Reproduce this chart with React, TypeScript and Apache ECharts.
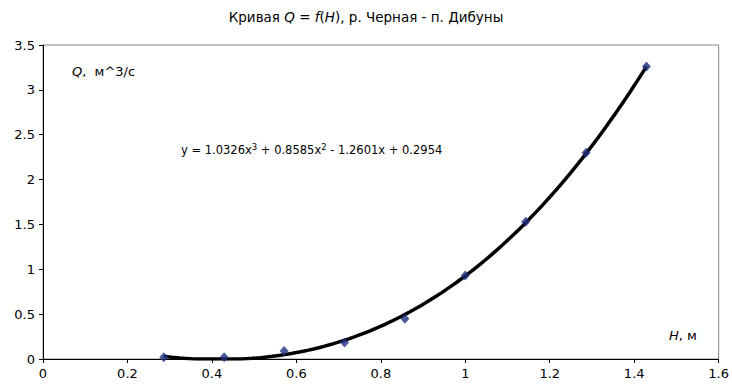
import React, { useEffect, useRef } from "react";
import * as echarts from "echarts";

const H_VALUES = [0.286, 0.429, 0.571, 0.714, 0.857, 1.0, 1.143, 1.286, 1.429];
const Q_VALUES = [0.02, 0.02, 0.09, 0.185, 0.45, 0.93, 1.53, 2.3, 3.26];
// polynomial trendline coefficients (x^3, x^2, x, const) as shown on the chart
const TREND_COEF = [1.0326, 0.8585, -1.2601, 0.2954];
const X_TICKS = [0, 0.2, 0.4, 0.6, 0.8, 1, 1.2, 1.4, 1.6];
const Y_TICKS = [0, 0.5, 1, 1.5, 2, 2.5, 3, 3.5];

const FONT = "DejaVu Sans, Liberation Sans, Arial, sans-serif";

function trend(x: number) {
  const [a, b, c, d] = TREND_COEF;
  return a * x * x * x + b * x * x + c * x + d;
}

export default function App() {
  const ref = useRef<HTMLDivElement>(null);
  useEffect(() => {
    document.body.style.margin = "0";
    if (!ref.current) return;
    const chart = echarts.init(ref.current, undefined, { renderer: "svg" });
    const x0 = H_VALUES[0];
    const x1 = H_VALUES[H_VALUES.length - 1];
    const trendData: number[][] = [];
    const n = 120;
    for (let i = 0; i <= n; i++) {
      const x = x0 + ((x1 - x0) * i) / n;
      trendData.push([x, Math.max(0, trend(x))]);
    }
    chart.setOption({
      animation: false,
      backgroundColor: "#fff",
      title: {
        text: "Кривая {i|Q} = {i|f}({i|H}), р. Черная - п. Дибуны",
        left: "center",
        top: 5,
        textStyle: {
          fontFamily: FONT,
          fontSize: 13.5,
          fontWeight: "normal",
          color: "#000",
          rich: {
            i: { fontStyle: "italic", fontFamily: FONT, fontSize: 13.5, color: "#000" },
          },
        },
      },
      grid: {
        left: 43,
        right: 13,
        top: 45,
        bottom: 31,
        show: true,
        borderColor: "#888",
        borderWidth: 1,
        backgroundColor: "#fff",
      },
      xAxis: {
        type: "value",
        min: X_TICKS[0],
        max: X_TICKS[X_TICKS.length - 1],
        interval: 0.2,
        splitLine: { show: false },
        axisLine: { show: true, onZero: false, lineStyle: { color: "#000", width: 1 } },
        axisTick: { show: true, inside: false, length: 4, lineStyle: { color: "#000" } },
        axisLabel: {
          fontFamily: FONT,
          fontSize: 13,
          color: "#000",
          margin: 8,
          formatter: (v: number) => String(Math.round(v * 10) / 10),
        },
      },
      yAxis: {
        type: "value",
        min: Y_TICKS[0],
        max: Y_TICKS[Y_TICKS.length - 1],
        interval: 0.5,
        splitLine: { show: false },
        axisLine: { show: true, onZero: false, lineStyle: { color: "#000", width: 1 } },
        axisTick: { show: true, inside: false, length: 4, lineStyle: { color: "#000" } },
        axisLabel: {
          fontFamily: FONT,
          fontSize: 13,
          color: "#000",
          margin: 8,
          formatter: (v: number) => String(Math.round(v * 10) / 10),
        },
      },
      series: [
        {
          type: "line",
          data: trendData,
          showSymbol: false,
          symbol: "none",
          smooth: false,
          lineStyle: { color: "#000", width: 3.5 },
          z: 2,
          silent: true,
        },
        {
          type: "scatter",
          data: H_VALUES.map((h, i) => [h, Q_VALUES[i]]),
          symbol: "diamond",
          symbolSize: [9, 10],
          itemStyle: { color: "#1F2F80" },
          z: 3,
        },
      ],
      graphic: [
        {
          type: "text",
          left: 72,
          top: 65,
          style: {
            text: "{i|Q},  м^3/с",
            font: `13px ${FONT}`,
            fill: "#000",
            rich: { i: { fontStyle: "italic", fontFamily: FONT, fontSize: 13 } },
          },
        },
        {
          type: "text",
          left: 181,
          top: 142,
          style: {
            text: "y = 1.0326x{s|3} + 0.8585x{s|2} - 1.2601x + 0.2954",
            font: `11.5px ${FONT}`,
            fill: "#000",
            rich: { s: { fontSize: 8.5, fontFamily: FONT, verticalAlign: "top", padding: [0, 0, 6, 0] } },
          },
        },
        {
          type: "text",
          left: 669,
          top: 329,
          style: {
            text: "{i|H}, м",
            font: `13px ${FONT}`,
            fill: "#000",
            rich: { i: { fontStyle: "italic", fontFamily: FONT, fontSize: 13 } },
          },
        },
      ],
    });
    return () => chart.dispose();
  }, []);
  return <div ref={ref} style={{ width: 732, height: 390 }} />;
}
